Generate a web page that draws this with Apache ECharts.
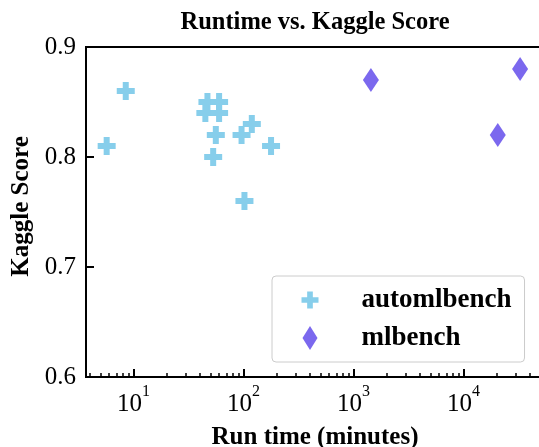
<!DOCTYPE html>
<html>
<head>
<meta charset="utf-8">
<script src="https://cdn.jsdelivr.net/npm/echarts@6/dist/echarts.min.js"></script>
<style>html,body{margin:0;padding:0;background:#fff;}#c{width:539px;height:447px;}</style>
</head>
<body>
<div id="c"></div>
<script>
// Run time in minutes and Kaggle scores
const automlRuntime = [8.5, 5.7, 47, 60, 45, 60, 56, 53, 96, 119, 178, 102];
const automlScore   = [0.86, 0.81, 0.85, 0.85, 0.84, 0.84, 0.82, 0.80, 0.82, 0.83, 0.81, 0.76];
const mlbenchRuntime = [1440, 32700, 20500];
const mlbenchScore   = [0.87, 0.88, 0.82];
const xMajorExponents = [1, 2, 3, 4];
const yTickLabels = ['0.6', '0.7', '0.8', '0.9'];
const seriesNames = ['automlbench', 'mlbench'];

const FONT = "'Liberation Serif', 'DejaVu Serif', serif";
const crossPath = 'path://M1,0H2V1H3V2H2V3H1V2H0V1H1Z';
const diamondPath = 'path://M5,0L10,8L5,16L0,8Z';
const crossColor = '#87CEEB';
const diamondColor = '#7B68EE';

const xMin = 0.568, xMax = 4.732;
const minorVals = [];
for (let n = 0; n <= 4; n++) {
  for (let k = 2; k <= 9; k++) {
    const v = Math.log10(k * Math.pow(10, n));
    if (v > xMin && v < xMax) minorVals.push(v);
  }
}

const chart = echarts.init(document.getElementById('c'), null, {renderer: 'canvas'});
chart.setOption({
  animation: false,
  backgroundColor: '#fff',
  title: {
    text: 'Runtime vs. Kaggle Score',
    left: 315, top: 10, padding: 0, textAlign: 'center',
    textStyle: {fontFamily: FONT, fontWeight: 'bold', fontSize: 24.5, color: '#000'}
  },
  grid: {left: 86, top: 47, right: -5, bottom: 70, outerBoundsMode: 'none', containLabel: false,
         show: true, borderColor: '#000', borderWidth: 2, backgroundColor: 'transparent'},
  legend: {
    left: 272, top: 276, orient: 'vertical',
    padding: [10, 13, 10, 29.5],
    itemGap: 10,
    itemWidth: 17, itemHeight: 24,
    backgroundColor: '#fff', borderColor: '#cccccc', borderWidth: 1, borderRadius: 4,
    textStyle: {fontFamily: FONT, fontWeight: 'bold', fontSize: 27, color: '#000', lineHeight: 28, padding: [0, 0, 0, 38]},
    data: [
      {name: seriesNames[0], icon: crossPath, itemStyle: {color: crossColor}},
      {name: seriesNames[1], icon: diamondPath, itemStyle: {color: diamondColor}}
    ]
  },
  xAxis: [
    {
      type: 'value', min: xMin, max: xMax, position: 'bottom',
      axisLine: {show: true, onZero: false, lineStyle: {color: '#000', width: 2}},
      axisTick: {show: true, inside: true, length: 8, lineStyle: {color: '#000', width: 2}, customValues: xMajorExponents},
      axisLabel: {
        show: true, margin: 7, customValues: xMajorExponents,
        formatter: v => '{b|10}{s|' + Math.round(v) + '}',
        rich: {
          b: {fontFamily: FONT, fontSize: 25, color: '#000', lineHeight: 40},
          s: {fontFamily: FONT, fontSize: 16, color: '#000', verticalAlign: 'top'}
        }
      },
      splitLine: {show: false},
      name: 'Run time (minutes)', nameLocation: 'middle', nameGap: 48,
      nameTextStyle: {fontFamily: FONT, fontWeight: 'bold', fontSize: 25, color: '#000'}
    },
    {
      type: 'value', min: xMin, max: xMax, position: 'bottom',
      axisLine: {show: false, onZero: false},
      axisTick: {show: true, inside: true, length: 4, lineStyle: {color: '#000', width: 1.5}, customValues: minorVals},
      axisLabel: {show: false},
      splitLine: {show: false}
    }
  ],
  yAxis: {
    type: 'value', min: 0.6, max: 0.9, interval: 0.1,
    axisLine: {show: true, onZero: false, lineStyle: {color: '#000', width: 2}},
    axisTick: {show: true, inside: true, length: 8, lineStyle: {color: '#000', width: 2}},
    axisLabel: {
      margin: 10, fontFamily: FONT, fontSize: 25, color: '#000',
      formatter: v => yTickLabels[Math.round((v - 0.6) * 10)]
    },
    splitLine: {show: false},
    name: 'Kaggle Score', nameLocation: 'middle', nameGap: 45,
    nameTextStyle: {fontFamily: FONT, fontWeight: 'bold', fontSize: 25, color: '#000', padding: [0, 0, 0, 11]}
  },
  series: [
    {
      name: seriesNames[0], type: 'scatter', xAxisIndex: 0,
      symbol: crossPath, symbolSize: 18, symbolKeepAspect: false,
      itemStyle: {color: crossColor, opacity: 1},
      data: automlRuntime.map((t, i) => [Math.log10(t), automlScore[i]])
    },
    {
      name: seriesNames[1], type: 'scatter', xAxisIndex: 0,
      symbol: diamondPath, symbolSize: [16, 24], symbolKeepAspect: false,
      itemStyle: {color: diamondColor, opacity: 1},
      data: mlbenchRuntime.map((t, i) => [Math.log10(t), mlbenchScore[i]])
    }
  ]
});
</script>
</body>
</html>
